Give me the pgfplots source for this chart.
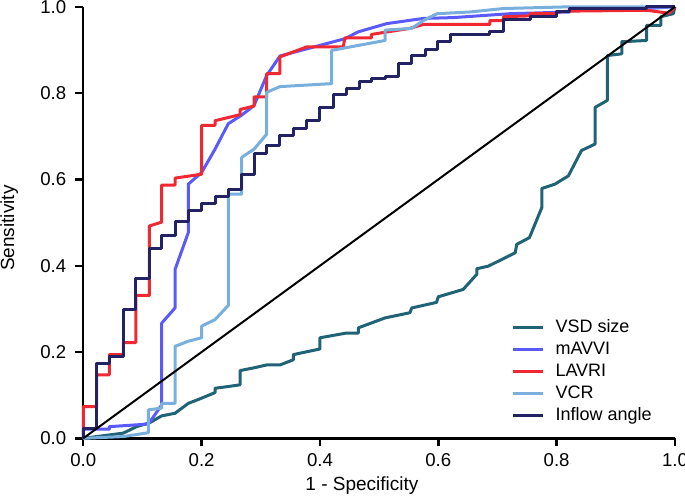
\documentclass[border=0pt]{standalone}
\usepackage{fontspec}
\setmainfont{Liberation Sans}
\usepackage{pgfplots}
\pgfplotsset{compat=1.18}

\definecolor{vsdc}{HTML}{206377}
\definecolor{mavvic}{HTML}{5A5AFA}
\definecolor{lavric}{HTML}{F02832}
\definecolor{vcrc}{HTML}{78AFDC}
\definecolor{inflowc}{HTML}{232364}

\begin{document}
\begin{tikzpicture}
\begin{axis}[
    scale only axis,
    width=295.85pt, height=215.75pt,
    xmin=0, xmax=1, ymin=0, ymax=1,
    axis lines=left,
    axis line style={-, line width=1.2pt, black},
    tick style={line width=1.2pt, black},
    tick align=outside,
    major tick length=4pt,
    xtick={0,0.2,...,1.0}, ytick={0,0.2,...,1.0},
    xticklabel style={/pgf/number format/.cd, fixed, fixed zerofill, precision=1},
    yticklabel style={xshift=-1pt, /pgf/number format/.cd, fixed, fixed zerofill, precision=1},
    /pgf/number format/assume math mode=true,
    tick label style={font=\fontsize{9.3}{11}\selectfont},
    label style={font=\fontsize{9.5}{11}\selectfont},
    xlabel={1 - Specificity},
    ylabel={Sensitivity},
    xlabel style={at={(axis description cs:0.471,-0.11)}, anchor=center},
    ylabel style={at={(axis description cs:-0.125,0.487)}, anchor=center},
    clip=false,
    legend cell align=left,
    legend image code/.code={\draw[#1] (0pt,0pt) -- (15pt,0pt);},
    legend style={draw=none, fill=none, inner sep=0pt,
        at={(axis description cs:0.723,0.283)}, anchor=north west,
        font=\fontsize{9}{11}\selectfont,
        row sep=0pt,
        nodes={text height=7pt, text depth=2pt, inner ysep=1pt},
        /tikz/every odd column/.append style={column sep=3.5pt}},
    every axis plot/.append style={line width=1.5pt, line join=round},
]

% VSD size
\addplot[vsdc] coordinates {
(0,0) (0.0226,0.004) (0.0676,0.012) (0.09,0.027) (0.112,0.036) (0.1325,0.052)
(0.155,0.058) (0.1775,0.081) (0.2,0.093) (0.2226,0.106) (0.2226,0.116)
(0.245,0.12) (0.265,0.124) (0.265,0.157) (0.2873,0.163) (0.31,0.17)
(0.3324,0.17) (0.355,0.182) (0.355,0.194) (0.4,0.207) (0.4,0.233)
(0.445,0.244) (0.4648,0.244) (0.4648,0.256) (0.51,0.279) (0.552,0.291)
(0.555,0.302) (0.597,0.315) (0.6,0.328) (0.642,0.345) (0.665,0.38)
(0.665,0.393) (0.6845,0.399) (0.73,0.43) (0.7325,0.4495) (0.754,0.465)
(0.775,0.535) (0.775,0.579) (0.797,0.589) (0.8197,0.608) (0.842,0.667)
(0.865,0.682) (0.865,0.767) (0.8856,0.783) (0.8856,0.887) (0.91,0.891)
(0.91,0.919) (0.952,0.922) (0.952,0.957) (0.976,0.957) (0.976,0.977)
(0.997,0.984) (1,1)
};
\addlegendentry{VSD size}

% mAVVI
\addplot[mavvic] coordinates {
(0,0) (0,0.021) (0.044,0.021) (0.044,0.027) (0.11,0.033) (0.1325,0.0775)
(0.1325,0.267) (0.155,0.302) (0.155,0.391) (0.1775,0.477) (0.1775,0.589)
(0.2,0.616) (0.2226,0.67) (0.245,0.729) (0.2677,0.749) (0.2885,0.771)
(0.31,0.841) (0.3324,0.886) (0.442,0.926) (0.4648,0.942) (0.5127,0.961)
(0.5746,0.973) (0.6253,0.975) (0.721,0.984) (0.8225,0.988) (0.8225,0.996)
(0.952,0.996) (1,1)
};
\addlegendentry{mAVVI}

% LAVRI
\addplot[lavric] coordinates {
(0,0) (0,0.0735) (0.0226,0.0735) (0.0226,0.147) (0.044,0.147) (0.044,0.194)
(0.0676,0.194) (0.0676,0.222) (0.089,0.222) (0.089,0.331) (0.1116,0.331)
(0.1116,0.492) (0.1325,0.501) (0.1325,0.587) (0.155,0.587) (0.155,0.603)
(0.2,0.612) (0.2,0.725) (0.2226,0.725) (0.2226,0.736) (0.265,0.75)
(0.265,0.762) (0.2885,0.77) (0.2885,0.791) (0.31,0.791) (0.31,0.845)
(0.3324,0.845) (0.3324,0.884) (0.3775,0.907) (0.4394,0.907) (0.442,0.928)
(0.487,0.928) (0.487,0.936) (0.552,0.95) (0.5746,0.959) (0.687,0.959)
(0.687,0.968) (0.71,0.968) (0.71,0.977) (0.755,0.979) (0.755,0.984)
(0.799,0.984) (0.799,0.988) (0.8225,0.99) (0.952,0.992) (0.99,0.985) (1,1)
};
\addlegendentry{LAVRI}

% VCR
\addplot[vcrc] coordinates {
(0,0) (0.0676,0.004) (0.11,0.013) (0.11,0.066) (0.1325,0.07) (0.1325,0.081)
(0.155,0.081) (0.155,0.213) (0.1775,0.225) (0.2,0.233) (0.2,0.26)
(0.2226,0.275) (0.245,0.308) (0.245,0.566) (0.2677,0.566) (0.2677,0.651)
(0.2885,0.67) (0.31,0.705) (0.31,0.802) (0.3324,0.815) (0.4198,0.822)
(0.4198,0.899) (0.51,0.922) (0.51,0.946) (0.555,0.95) (0.5746,0.968)
(0.598,0.984) (0.6535,0.988) (0.71,0.996) (0.8225,1) (1,1)
};
\addlegendentry{VCR}

% Inflow angle
\addplot[inflowc] coordinates {
(0,0) (0,0.023) (0.0226,0.023) (0.0226,0.174) (0.044,0.174) (0.044,0.19)
(0.0676,0.19) (0.0676,0.298) (0.089,0.298) (0.089,0.37) (0.1116,0.37)
(0.1116,0.44) (0.1325,0.44) (0.1325,0.47) (0.155,0.47) (0.155,0.503)
(0.1775,0.503) (0.1775,0.527) (0.2,0.527) (0.2,0.545) (0.2226,0.545)
(0.2226,0.56) (0.245,0.56) (0.245,0.576) (0.2677,0.576) (0.2677,0.612)
(0.2885,0.612) (0.2885,0.659) (0.31,0.659) (0.31,0.678) (0.3324,0.678)
(0.3324,0.701) (0.355,0.701) (0.355,0.717) (0.3775,0.717) (0.3775,0.736)
(0.4,0.736) (0.4,0.767) (0.4225,0.767) (0.4225,0.796) (0.445,0.796)
(0.445,0.81) (0.4665,0.81) (0.4665,0.827) (0.4874,0.827) (0.4874,0.833)
(0.51,0.833) (0.51,0.839) (0.532,0.839) (0.532,0.868) (0.555,0.868)
(0.555,0.886) (0.5775,0.886) (0.5775,0.901) (0.598,0.901) (0.598,0.919)
(0.621,0.919) (0.621,0.935) (0.687,0.935) (0.687,0.942) (0.71,0.942)
(0.71,0.971) (0.755,0.971) (0.755,0.977) (0.799,0.977) (0.799,0.988)
(0.8225,0.988) (0.8225,0.996) (0.952,0.996) (0.952,1) (1,1)
};
\addlegendentry{Inflow angle}

% reference diagonal
\addplot[black, line width=1pt, forget plot] coordinates {(0,0) (1,1)};
\end{axis}
\pgfresetboundingbox
\path (-41.65pt,-29.85pt) rectangle (300.85pt,219.15pt);
\end{tikzpicture}
\end{document}
